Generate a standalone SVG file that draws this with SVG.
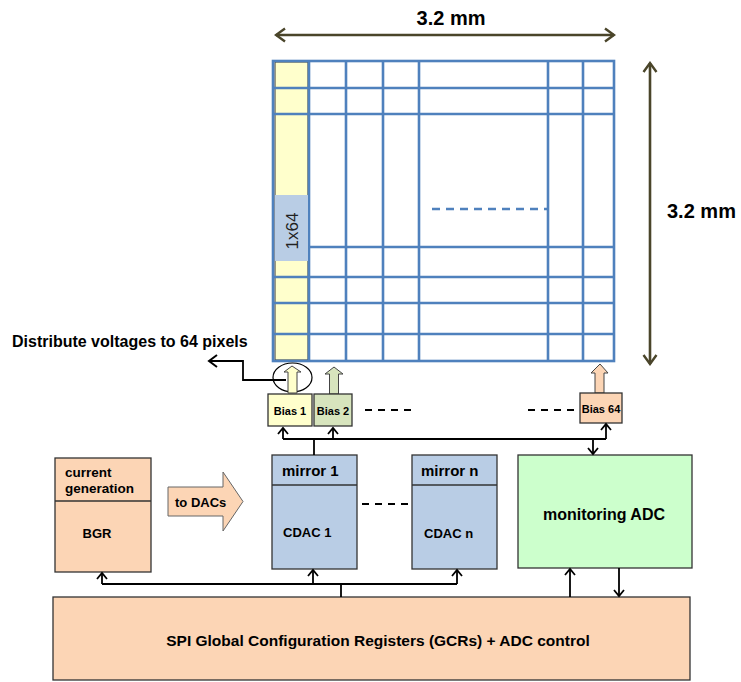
<svg xmlns="http://www.w3.org/2000/svg" width="741" height="682" viewBox="0 0 741 682">
<defs>
<style>
.t{font-family:"Liberation Sans",Arial,sans-serif;font-weight:bold;fill:#000}
.box{stroke:#333;stroke-width:1.3}
.grid{stroke:#4F81BD;stroke-width:2.6;fill:none}
.wire{stroke:#000;stroke-width:1.8;fill:none}
.dim{stroke:#4A452A;stroke-width:2.6;fill:none}
.dash{stroke:#000;stroke-width:1.8;stroke-dasharray:7,6;fill:none}
</style>
<marker id="oa" viewBox="-8 -6 10 12" refX="0" refY="0" markerWidth="10" markerHeight="12" markerUnits="userSpaceOnUse" orient="auto">
<path d="M-6,-5 L0,0 L-6,5" fill="none" stroke="#000" stroke-width="1.8"/>
</marker>
<marker id="da" viewBox="-11 -8 13 16" refX="0" refY="0" markerWidth="13" markerHeight="16" markerUnits="userSpaceOnUse" orient="auto-start-reverse">
<path d="M-9,-6.5 L0,0 L-9,6.5" fill="none" stroke="#4A452A" stroke-width="2.4"/>
</marker>
<marker id="la" viewBox="-10 -8 12 16" refX="0" refY="0" markerWidth="12" markerHeight="16" markerUnits="userSpaceOnUse" orient="auto">
<path d="M-8,-6 L0,0 L-8,6" fill="none" stroke="#000" stroke-width="2"/>
</marker>
</defs>
<rect width="741" height="682" fill="#fff"/>

<g id="pixel-matrix">
<rect x="275" y="62" width="33" height="298" fill="#FFFFCC" stroke="#333" stroke-width="1"/>
<g class="grid">
<rect x="273" y="61" width="341" height="300"/>
<line x1="309" y1="61" x2="309" y2="361"/>
<line x1="346" y1="61" x2="346" y2="361"/>
<line x1="383" y1="61" x2="383" y2="361"/>
<line x1="419" y1="61" x2="419" y2="361"/>
<line x1="548" y1="61" x2="548" y2="361"/>
<line x1="583" y1="61" x2="583" y2="361"/>
<line x1="273" y1="88" x2="614" y2="88"/>
<line x1="273" y1="114" x2="614" y2="114"/>
<line x1="309" y1="247" x2="614" y2="247"/>
<line x1="273" y1="277" x2="614" y2="277"/>
<line x1="273" y1="303" x2="614" y2="303"/>
<line x1="273" y1="334" x2="614" y2="334"/>
<line x1="432" y1="209" x2="548" y2="209" stroke-dasharray="8,6"/>
</g>
<rect x="275" y="195" width="33" height="66" fill="#B9CDE5"/>
<text transform="translate(298,231) rotate(-90)" text-anchor="middle" font-family="Liberation Sans, Arial, sans-serif" font-size="17" fill="#222">1x64</text>
</g>

<g id="dimensions">
<line class="dim" x1="276" y1="35" x2="614" y2="35" marker-start="url(#da)" marker-end="url(#da)"/>
<text class="t" x="451" y="25" font-size="20" text-anchor="middle">3.2 mm</text>
<line class="dim" x1="650" y1="63" x2="650" y2="364" marker-start="url(#da)" marker-end="url(#da)"/>
<text class="t" x="667" y="218" font-size="20">3.2 mm</text>
</g>

<g id="annotation">
<text class="t" x="12" y="347" font-size="16">Distribute voltages to 64 pixels</text>
<ellipse cx="292.5" cy="377.5" rx="19.5" ry="14.5" fill="none" stroke="#000" stroke-width="1.2"/>
<path class="wire" d="M286,380 H243 V361 H209" marker-end="url(#la)"/>
</g>

<g id="bias1">
<path d="M292,366 L301,372 L297,372 L297,393 L288,393 L288,372 L284,372 Z" fill="#FFFFCC" stroke="#444" stroke-width="1"/>
<rect class="box" x="268" y="394" width="44" height="32" fill="#FFFFCC"/>
<text class="t" x="290" y="415" font-size="11" text-anchor="middle">Bias 1</text>
</g>
<g id="bias2">
<path d="M334,367 L343,374 L338.5,374 L338.5,394 L329.5,394 L329.5,374 L325,374 Z" fill="#D7E4BD" stroke="#444" stroke-width="1"/>
<rect class="box" x="314" y="394" width="38" height="32" fill="#D7E4BD"/>
<text class="t" x="333" y="415" font-size="11" text-anchor="middle">Bias 2</text>
</g>
<g id="bias64">
<path d="M600,364 L608,373 L604,373 L604,393 L595,393 L595,373 L591,373 Z" fill="#FCD5B5" stroke="#444" stroke-width="1"/>
<rect class="box" x="580" y="393" width="42" height="30" fill="#FCD5B5"/>
<text class="t" x="601" y="413" font-size="11" text-anchor="middle">Bias 64</text>
</g>

<g id="mirror1">
<rect class="box" x="272" y="455" width="85" height="114" fill="#B9CDE5"/>
<line class="box" x1="272" y1="485" x2="357" y2="485"/>
<text class="t" x="282" y="476" font-size="15">mirror 1</text>
<text class="t" x="283" y="537" font-size="13">CDAC 1</text>
</g>
<g id="mirrorn">
<rect class="box" x="412" y="455" width="85" height="114" fill="#B9CDE5"/>
<line class="box" x1="412" y1="485" x2="497" y2="485"/>
<text class="t" x="421" y="476" font-size="15">mirror n</text>
<text class="t" x="424" y="538" font-size="13">CDAC n</text>
</g>
<g id="adc">
<rect class="box" x="518" y="455" width="174" height="113" fill="#CCFFCC"/>
<text class="t" x="604" y="520" font-size="16" text-anchor="middle">monitoring ADC</text>
</g>
<g id="bgr">
<rect class="box" x="55" y="458" width="96" height="114" fill="#FCD5B5"/>
<line class="box" x1="55" y1="501" x2="151" y2="501"/>
<text class="t" x="65" y="477" font-size="13.5">current</text>
<text class="t" x="65" y="493" font-size="13.5">generation</text>
<text class="t" x="97" y="538" font-size="13" text-anchor="middle">BGR</text>
</g>
<g id="to-dacs">
<path d="M168,487 H223 V472 L243,501.5 L223,531 V516 H168 Z" fill="#FCD5B5" stroke="#666" stroke-width="1"/>
<text class="t" x="175" y="507" font-size="13">to DACs</text>
</g>
<g id="spi">
<rect class="box" x="53" y="597" width="637" height="83" fill="#FCD5B5"/>
<text class="t" x="378" y="646" font-size="15.5" text-anchor="middle">SPI Global Configuration Registers (GCRs) + ADC control</text>
</g>

<g id="connectors">
<path class="wire" d="M283,439 H606"/>
<line class="wire" x1="283" y1="439" x2="283" y2="428" marker-end="url(#oa)"/>
<line class="wire" x1="333" y1="439" x2="333" y2="428" marker-end="url(#oa)"/>
<line class="wire" x1="606" y1="439" x2="606" y2="424" marker-end="url(#oa)"/>
<line class="wire" x1="314" y1="439" x2="314" y2="455"/>
<line class="wire" x1="593" y1="439" x2="593" y2="454" marker-end="url(#oa)"/>
<path class="wire" d="M102,584 H457"/>
<line class="wire" x1="102" y1="584" x2="102" y2="573" marker-end="url(#oa)"/>
<line class="wire" x1="313" y1="584" x2="313" y2="570" marker-end="url(#oa)"/>
<line class="wire" x1="457" y1="584" x2="457" y2="570" marker-end="url(#oa)"/>
<line class="wire" x1="341" y1="584" x2="341" y2="597"/>
<line class="wire" x1="570" y1="597" x2="570" y2="569" marker-end="url(#oa)"/>
<line class="wire" x1="619" y1="568" x2="619" y2="596" marker-end="url(#oa)"/>
<line class="dash" x1="365" y1="410" x2="412" y2="410"/>
<line class="dash" x1="528" y1="410" x2="574" y2="410"/>
<line class="dash" x1="362" y1="504" x2="408" y2="504"/>
</g>
</svg>
